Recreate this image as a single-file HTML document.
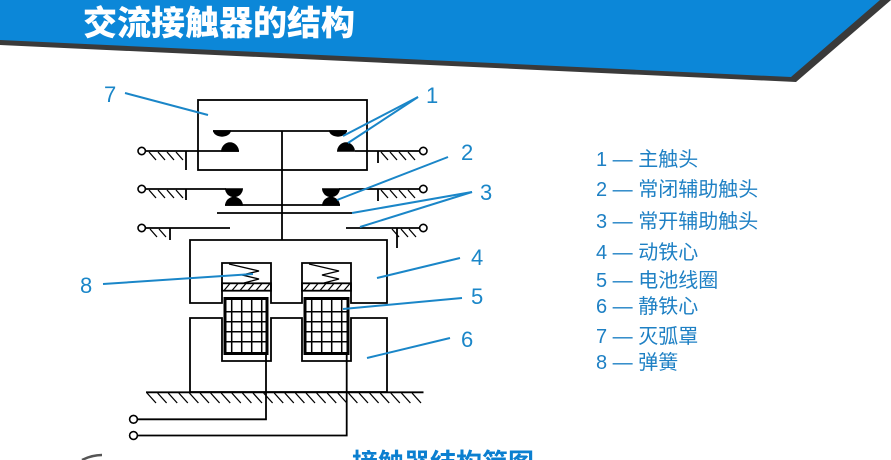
<!DOCTYPE html>
<html><head><meta charset="utf-8"><style>
html,body{margin:0;padding:0;background:#fff;}
body{width:891px;height:460px;overflow:hidden;}
svg{display:block;}
</style></head><body>
<svg width="891" height="460" viewBox="0 0 891 460" xmlns="http://www.w3.org/2000/svg">
<rect width="891" height="460" fill="#fff"/>
<!-- header -->
<polygon points="0,0 891,0 796,82 0,45" fill="#3a3a3a"/>
<polygon points="0,0 880,0 791,77 0,40" fill="#0c87d8"/>
<text x="83" y="35" font-family="'Liberation Sans','Noto Sans CJK SC',sans-serif" font-size="34" font-weight="900" fill="#fff">交流接触器的结构</text>

<g stroke="#000" stroke-width="1.8" fill="none">
<!-- box 7 -->
<rect x="198" y="100" width="169" height="70"/>
<!-- center rod -->
<line x1="282" y1="131" x2="282" y2="240"/>
<!-- top bar -->
<line x1="213" y1="131" x2="347" y2="131"/>
<!-- row 1 -->
<line x1="145.5" y1="151" x2="239" y2="151"/>
<line x1="355" y1="151" x2="419.5" y2="151"/>
<line x1="186" y1="151" x2="186" y2="170"/>
<line x1="378" y1="151" x2="378" y2="163"/>
<!-- row 2 -->
<line x1="145.5" y1="189" x2="226" y2="189"/>
<line x1="339" y1="189" x2="419.5" y2="189"/>
<line x1="186" y1="189" x2="186" y2="200"/>
<line x1="378" y1="189" x2="378" y2="201"/>
<line x1="225" y1="205" x2="340" y2="205"/>
<!-- bar 3 -->
<line x1="217" y1="213" x2="352" y2="213"/>
<!-- row 4 -->
<line x1="145.5" y1="228" x2="230" y2="228"/>
<line x1="346" y1="228" x2="419.5" y2="228"/>
<line x1="170" y1="228" x2="170" y2="240"/>
<line x1="397" y1="228" x2="397" y2="248"/>
<!-- contact hatches -->
<path stroke-width="1.3" d="M149,152 l7,8 M158,152 l7,8 M167,152 l7,8 M176,152 l7,8
M149,190 l7,8 M158,190 l7,8 M167,190 l7,8 M176,190 l7,8
M150,229 l7,8 M159,229 l7,8
M381,152 l7,8 M390,152 l7,8 M399,152 l7,8 M408,152 l7,8
M381,190 l7,8 M390,190 l7,8 M399,190 l7,8 M408,190 l7,8
M392,229 l7,8 M401,229 l7,8 M409,229 l7,8"/>
<!-- moving core -->
<path d="M190,240 L387,240 L387,303 L351,303 L351,263 L302,263 L302,303 L271,303 L271,263 L222,263 L222,303 L190,303 Z"/>
<!-- static core -->
<path d="M190,318 L222,318 L222,361 L271,361 L271,318 L302,318 L302,361 L351,361 L351,318 L387,318 L387,392 L190,392 Z"/>
<!-- springs -->
<polyline stroke-width="1.4" points="229,264 259,271 242,275 259,279 244,283"/>
<polyline stroke-width="1.4" points="309,264 339,271 322,275 339,279 324,283"/>
<!-- plates -->
<rect x="222" y="283.3" width="49" height="7.4"/>
<rect x="302" y="283.3" width="49" height="7.4"/>
<path stroke-width="1.2" d="M224,290.5 l6,-7 M232,290.5 l6,-7 M240,290.5 l6,-7 M248,290.5 l6,-7 M256,290.5 l6,-7 M264,290.5 l6,-7
M304,290.5 l6,-7 M312,290.5 l6,-7 M320,290.5 l6,-7 M328,290.5 l6,-7 M336,290.5 l6,-7 M344,290.5 l6,-7"/>
<!-- coils -->
<rect x="225" y="298.5" width="42" height="55" stroke-width="3"/>
<rect x="305" y="298.5" width="43" height="55" stroke-width="3"/>
<path stroke-width="1.5" d="M231.7,298.5 V353.5 M241.7,298.5 V353.5 M251.7,298.5 V353.5 M261.7,298.5 V353.5
M225,311.7 H267 M225,321.7 H267 M225,331.7 H267 M225,341.7 H267
M311.7,298.5 V353.5 M321.7,298.5 V353.5 M331.7,298.5 V353.5 M341.7,298.5 V353.5
M305,311.7 H348 M305,321.7 H348 M305,331.7 H348 M305,341.7 H348"/>
<!-- ground -->
<line x1="146" y1="392.3" x2="423.5" y2="392.3"/>
<path stroke-width="1.3" d="M147,393 l9,10 M157.6,393 l9,10 M168.2,393 l9,10 M178.8,393 l9,10 M189.4,393 l9,10 M200,393 l9,10 M210.6,393 l9,10 M221.2,393 l9,10 M231.8,393 l9,10 M242.4,393 l9,10 M253,393 l9,10 M263.6,393 l9,10 M274.2,393 l9,10 M284.8,393 l9,10 M295.4,393 l9,10 M306,393 l9,10 M316.6,393 l9,10 M327.2,393 l9,10 M337.8,393 l9,10 M348.4,393 l9,10 M359,393 l9,10 M369.6,393 l9,10 M380.2,393 l9,10 M390.8,393 l9,10 M401.4,393 l9,10 M412,393 l9,10"/>
<!-- wires -->
<polyline points="266,353 266,419.3 137.5,419.3"/>
<polyline points="346.7,353 346.7,435.5 137.5,435.5"/>
<!-- terminals -->
<g fill="#fff" stroke-width="1.6">
<circle cx="141.7" cy="151" r="3.7"/>
<circle cx="423.3" cy="151" r="3.7"/>
<circle cx="141.7" cy="189" r="3.7"/>
<circle cx="423.3" cy="189" r="3.7"/>
<circle cx="141.7" cy="228" r="3.7"/>
<circle cx="423.3" cy="228" r="3.7"/>
<circle cx="133.5" cy="419.3" r="3.9"/>
<circle cx="133.5" cy="435.5" r="3.9"/>
</g>
</g>
<!-- contacts (filled) -->
<g fill="#000">
<path d="M213,130.2 A9,6.5 0 0 0 231,130.2 Z"/>
<path d="M329,130.2 A9,6.5 0 0 0 347,130.2 Z"/>
<path d="M221,151.8 A9,9.5 0 0 1 239,151.8 Z"/>
<path d="M337,151.8 A9,9.5 0 0 1 355,151.8 Z"/>
<path d="M225,188.2 A9,9 0 0 0 243,188.2 Z"/>
<path d="M225,205.8 A9,9 0 0 1 243,205.8 Z"/>
<path d="M322,188.2 A9,9 0 0 0 340,188.2 Z"/>
<path d="M322,205.8 A9,9 0 0 1 340,205.8 Z"/>
</g>
<!-- leaders -->
<g stroke="#1a86c8" stroke-width="2" fill="none">
<line x1="125" y1="93" x2="208" y2="115"/>
<line x1="418" y1="97" x2="343" y2="136"/>
<line x1="418" y1="97" x2="348" y2="143"/>
<line x1="448" y1="157" x2="337" y2="200"/>
<line x1="472" y1="192" x2="352" y2="213"/>
<line x1="472" y1="192" x2="360" y2="227"/>
<line x1="460" y1="258" x2="377" y2="278"/>
<line x1="462" y1="298" x2="343" y2="309"/>
<line x1="450" y1="338" x2="367" y2="358"/>
<line x1="103" y1="284" x2="253" y2="274"/>
</g>
<g font-family="'Liberation Sans',sans-serif" font-size="22" fill="#1a86c8">
<text x="104" y="102">7</text>
<text x="426" y="103">1</text>
<text x="461" y="160">2</text>
<text x="480" y="200">3</text>
<text x="471" y="265">4</text>
<text x="471" y="304">5</text>
<text x="461" y="347">6</text>
<text x="80" y="293">8</text>
</g>
<g font-family="'Liberation Sans','Noto Sans CJK SC',sans-serif" font-size="20" fill="#1e80c4">
<text x="596" y="166">1 — 主触头</text>
<text x="596" y="196">2 — 常闭辅助触头</text>
<text x="596" y="228">3 — 常开辅助触头</text>
<text x="596" y="259">4 — 动铁心</text>
<text x="596" y="287">5 — 电池线圈</text>
<text x="596" y="313">6 — 静铁心</text>
<text x="596" y="343">7 — 灭弧罩</text>
<text x="596" y="369">8 — 弹簧</text>
</g>
<text x="352" y="472" font-family="'Liberation Sans','Noto Sans CJK SC',sans-serif" font-size="26" font-weight="bold" fill="#0b7fd0">接触器结构简图</text>
<path d="M82,460 Q92,455 102,455" stroke="#555" stroke-width="2.5" fill="none"/>
</svg>
</body></html>
